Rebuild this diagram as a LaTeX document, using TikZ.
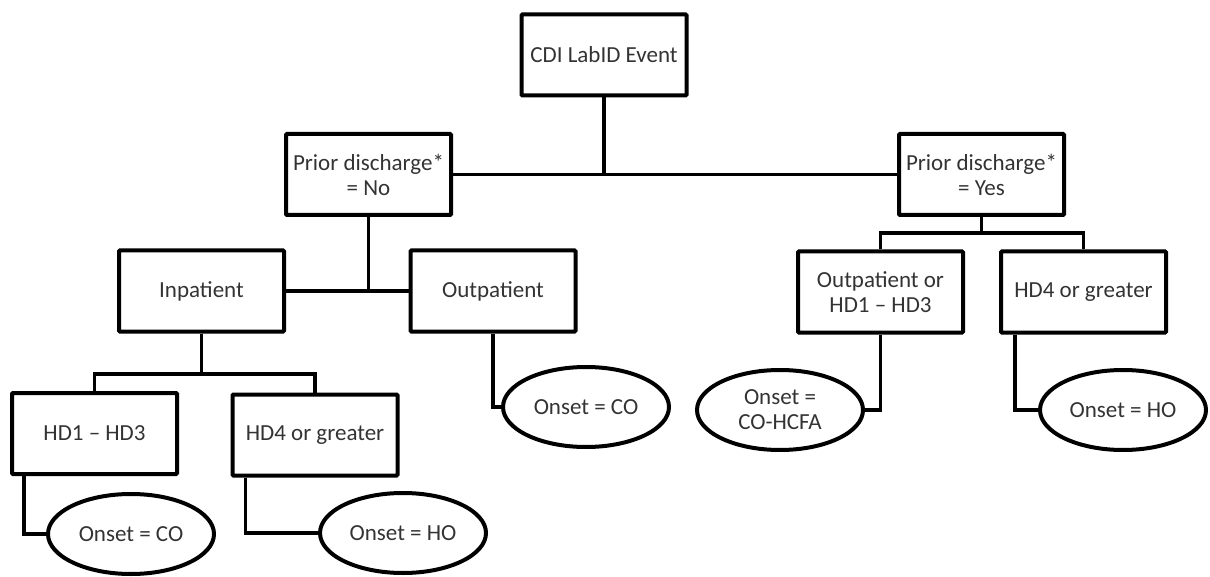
\documentclass[tikz,border=0pt]{standalone}
\usepackage{fontspec}
\setmainfont{Carlito}
\usetikzlibrary{positioning}
\usetikzlibrary{shapes.geometric}
\tikzset{
  decision box/.style={
    draw,
    line width=4pt,
    rounded corners=1pt,
    inner sep=0pt,
    align=center,
    text=black!80,
    font=\fontsize{23}{25}\selectfont,
    minimum width=165pt,
    minimum height=81pt
  },
  onset node/.style={
    ellipse,
    draw,
    line width=4pt,
    inner sep=0pt,
    align=center,
    text=black!80,
    font=\fontsize{23}{25}\selectfont,
    minimum width=166pt,
    minimum height=80pt
  },
  branch/.style={line width=3.6pt}
}

\begin{document}
\begin{tikzpicture}[x=1pt,y=-1pt]

  \useasboundingbox (0,0) rectangle (1210,577);

  \node[decision box] (event) at (604,55) {CDI LabID Event};

  \node[decision box] (pdno) at (368.5,174.5) {Prior discharge*\\= No};
  \node[decision box] (pdyes) at (981.5,174.5) {Prior discharge*\\= Yes};

  \node[decision box] (inpat) at (201.5,291) {Inpatient};
  \node[decision box] (outpat) at (493,291) {Outpatient};
  \node[decision box] (outor) at (880.5,292) {Outpatient or\\HD1 – HD3};
  \node[decision box] (hdfourr) at (1083.5,292) {HD4 or greater};

  \node[decision box] (hdone) at (94.5,433.5) {HD1 – HD3};
  \node[decision box] (hdfourl) at (315,435) {HD4 or greater};

  \node[onset node] (coleft) at (131,534) {Onset = CO};
  \node[onset node] (holeft) at (403,533) {Onset = HO};
  \node[onset node] (comid) at (586,407) {Onset = CO};
  \node[onset node] (hcfa) at (780,410) {Onset =\\CO-HCFA};
  \node[onset node] (horight) at (1123,410) {Onset = HO};

  \coordinate (inbar) at (201.5,374);
  \coordinate (yesbar) at (981.5,233);

  % top level
  \draw[branch] (event.south) -- (event.south |- pdno.east);
  \draw[branch] (pdno.east) -- (pdyes.west);

  % prior discharge = no
  \draw[branch] (pdno.south) -- (pdno.south |- inpat.east);
  \draw[branch] (inpat.east) -- (outpat.west);
  \draw[branch] (inpat.south) -- (inbar);
  \draw[branch] (hdone.north) |- (inbar) -| (hdfourl.north);
  \draw[branch] ([xshift=14pt]hdone.south west) |- (coleft.west);
  \draw[branch] ([xshift=15pt]hdfourl.south west) |- (holeft.west);
  \draw[branch] (outpat.south) |- (comid.west);

  % prior discharge = yes
  \draw[branch] (pdyes.south) -- (yesbar);
  \draw[branch] (outor.north) |- (yesbar) -| (hdfourr.north);
  \draw[branch] (outor.south) |- (hcfa.east);
  \draw[branch] ([xshift=16pt]hdfourr.south west) |- (horight.west);

\end{tikzpicture}
\end{document}
